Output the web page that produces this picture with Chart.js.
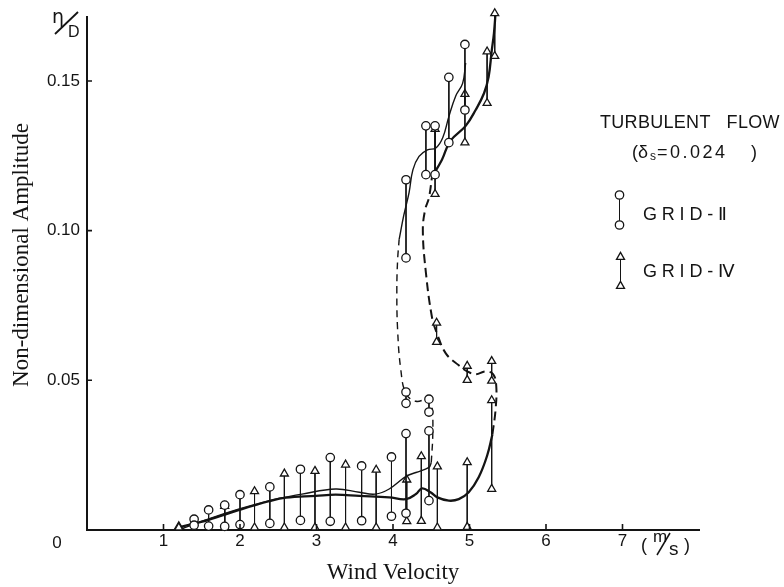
<!DOCTYPE html>
<html>
<head>
<meta charset="utf-8">
<script src="https://cdn.jsdelivr.net/npm/chart.js@4.4.1/dist/chart.umd.min.js"></script>
<style>
  html, body { margin: 0; padding: 0; background: #fff; }
  canvas { display: block; }
</style>
</head>
<body>
<canvas id="chart" width="784" height="587"></canvas>
<script>
// GRID-II: amplitude range (upper / lower reading) at each wind velocity
const gridIIVelocity = [1.40, 1.59, 1.80, 2.00, 2.39, 2.79, 3.18, 3.59, 3.98, 4.17, 4.17, 4.17, 4.43, 4.47, 4.47, 4.55, 4.73, 4.94];
const gridIIUpper    = [0.0036, 0.0067, 0.0083, 0.0118, 0.0144, 0.0203, 0.0242, 0.0214, 0.0244, 0.1170, 0.0461, 0.0322, 0.1350, 0.0437, 0.0331, 0.1350, 0.1512, 0.1622];
const gridIILower    = [0.0016, 0.0013, 0.0012, 0.0018, 0.0022, 0.0032, 0.0029, 0.0031, 0.0046, 0.0909, 0.0423, 0.0056, 0.1187, 0.0394, 0.0098, 0.1187, 0.1294, 0.1403];

// GRID-IV: amplitude range (upper / lower reading) at each wind velocity
const gridIVVelocity = [1.20, 1.80, 2.19, 2.58, 2.98, 3.38, 3.78, 4.18, 4.37, 4.55, 4.57, 4.58, 4.94, 4.97, 4.97, 5.23, 5.29, 5.29, 5.33];
const gridIVUpper    = [0.0012, 0.0080, 0.0129, 0.0188, 0.0197, 0.0218, 0.0201, 0.0168, 0.0246, 0.1339, 0.0692, 0.0212, 0.1456, 0.0548, 0.0226, 0.1598, 0.0564, 0.0433, 0.1726];
const gridIVLower    = [0.0008, 0.0008, 0.0008, 0.0008, 0.0008, 0.0008, 0.0008, 0.0029, 0.0030, 0.1122, 0.0628, 0.0008, 0.1294, 0.0501, 0.0010, 0.1426, 0.0498, 0.0137, 0.1583];

// GRID-II response curve: lower branch, jump (dashed), upper branch
const iiLowX   = [1.25, 1.59, 1.99, 2.38, 2.55, 2.81, 3.25, 3.56, 3.77, 3.95, 4.17, 4.30, 4.47, 4.50];
const iiLowY   = [0.0005, 0.0037, 0.0070, 0.0098, 0.0107, 0.0120, 0.0137, 0.0126, 0.0120, 0.0137, 0.0179, 0.0192, 0.0209, 0.0225];
const iiJumpX  = [4.50, 4.52, 4.51, 4.47, 4.30, 4.17, 4.10, 4.06, 4.05, 4.06, 4.08];
const iiJumpY  = [0.0225, 0.0320, 0.0410, 0.0437, 0.0430, 0.0455, 0.0540, 0.0670, 0.0800, 0.0900, 0.0970];
const iiHighX  = [4.08, 4.14, 4.21, 4.26, 4.34, 4.45, 4.56, 4.65, 4.73, 4.82, 4.91, 4.95];
const iiHighY  = [0.0970, 0.1050, 0.1127, 0.1203, 0.1248, 0.1270, 0.1276, 0.1310, 0.1381, 0.1450, 0.1492, 0.1560];

// GRID-IV response curve: lower branch, jump (dashed), upper branch
const ivLowX   = [1.20, 1.59, 1.99, 2.38, 2.60, 2.99, 3.25, 3.56, 3.95, 4.17, 4.30, 4.38, 4.49, 4.58, 4.73, 4.86, 4.99, 5.12, 5.23, 5.30];
const ivLowY   = [0.0009, 0.0034, 0.0067, 0.0096, 0.0108, 0.0114, 0.0118, 0.0114, 0.0109, 0.0103, 0.0120, 0.0139, 0.0126, 0.0109, 0.0098, 0.0103, 0.0126, 0.0176, 0.0248, 0.0320];
const ivJumpX  = [5.30, 5.34, 5.35, 5.31, 5.21, 5.08, 4.97, 4.86, 4.69, 4.57, 4.51, 4.43, 4.39, 4.42, 4.47, 4.51];
const ivJumpY  = [0.0320, 0.0400, 0.0480, 0.0520, 0.0530, 0.0520, 0.0530, 0.0550, 0.0590, 0.0660, 0.0710, 0.0860, 0.1000, 0.1070, 0.1110, 0.1180];
const ivHighX  = [4.51, 4.64, 4.75, 4.95, 5.08, 5.19, 5.25, 5.29, 5.32, 5.34];
const ivHighY  = [0.1180, 0.1237, 0.1300, 0.1350, 0.1403, 0.1459, 0.1514, 0.1600, 0.1660, 0.1726];

// axis ticks
const xTickValues = [1, 2, 3, 4, 5, 6, 7];
const yTickValues = [0.05, 0.10, 0.15];

const INK = '#141414';
const CIRCLE_R = 4.2;
const TRIANGLE_R = 4.6;

// vertical bars: upper point, lower point, then a gap to break the line
function rangePoints(vel, up, lo) {
  const pts = [];
  vel.forEach((v, i) => {
    pts.push({ x: v, y: up[i] }, { x: v, y: lo[i] }, { x: v, y: null });
  });
  return pts;
}
function pathPoints(xs, ys) {
  return xs.map((x, i) => ({ x: x, y: ys[i] }));
}

function rangeSet(label, vel, up, lo, style) {
  return {
    label: label,
    data: rangePoints(vel, up, lo),
    showLine: true,
    spanGaps: false,
    tension: 0,
    borderColor: INK,
    borderWidth: 1,
    pointStyle: style,
    pointRadius: style === 'triangle' ? TRIANGLE_R : CIRCLE_R,
    pointBackgroundColor: '#fff',
    pointBorderColor: INK,
    pointBorderWidth: 1.3,
    clip: false
  };
}
function curveSet(label, xs, ys, width, dash) {
  return {
    label: label,
    data: pathPoints(xs, ys),
    showLine: true,
    tension: 0.4,
    borderColor: INK,
    borderWidth: width,
    borderDash: dash || [],
    pointRadius: 0,
    clip: false
  };
}

// markers first so they are painted over the curves
const datasets = [
  rangeSet('GRID-II', gridIIVelocity, gridIIUpper, gridIILower, 'circle'),
  rangeSet('GRID-IV', gridIVVelocity, gridIVUpper, gridIVLower, 'triangle'),
  curveSet('GRID-II lower', iiLowX, iiLowY, 1.4),
  curveSet('GRID-II jump', iiJumpX, iiJumpY, 1.4, [7, 5]),
  curveSet('GRID-II upper', iiHighX, iiHighY, 1.4),
  curveSet('GRID-IV lower', ivLowX, ivLowY, 2.3),
  curveSet('GRID-IV jump', ivJumpX, ivJumpY, 2.0, [9, 5]),
  curveSet('GRID-IV upper', ivHighX, ivHighY, 2.3)
];

const SANS = '"Liberation Sans", "DejaVu Sans", sans-serif';
const SERIF = '"Liberation Serif", "DejaVu Serif", serif';

function spaced(ctx, px) {
  if ('letterSpacing' in ctx) ctx.letterSpacing = px + 'px';
}

// annotations: inner tick marks, origin, unit labels, y title and legend block
const decor = {
  id: 'decor',
  afterDraw(chart) {
    const ctx = chart.ctx;
    const a = chart.chartArea;
    const xs = chart.scales.x, ys = chart.scales.y;
    ctx.save();
    ctx.strokeStyle = INK;
    ctx.fillStyle = INK;

    // tick marks pointing into the plot
    ctx.lineWidth = 1.6;
    ctx.beginPath();
    xTickValues.forEach(v => {
      const p = xs.getPixelForValue(v);
      ctx.moveTo(p, a.bottom);
      ctx.lineTo(p, a.bottom - 6);
    });
    yTickValues.forEach(v => {
      const p = ys.getPixelForValue(v);
      ctx.moveTo(a.left, p);
      ctx.lineTo(a.left + 5, p);
    });
    ctx.stroke();

    // origin label
    ctx.font = '17px ' + SANS;
    ctx.textAlign = 'center';
    ctx.textBaseline = 'alphabetic';
    ctx.fillText('0', 57, 548);

    // y-axis title
    ctx.save();
    ctx.translate(22, 255);
    ctx.rotate(-Math.PI / 2);
    ctx.font = '23px ' + SERIF;
    ctx.textBaseline = 'middle';
    ctx.fillText('Non-dimensional Amplitude', 0, 0);
    ctx.restore();

    // η/D above the y axis
    ctx.textAlign = 'left';
    ctx.font = '19px "DejaVu Sans", sans-serif';
    ctx.fillText('η', 52, 23);
    ctx.font = '16px ' + SANS;
    ctx.fillText('D', 68, 37);
    ctx.lineWidth = 1.8;
    ctx.beginPath();
    ctx.moveTo(55, 34);
    ctx.lineTo(78, 12);
    ctx.stroke();

    // velocity unit (m/s)
    ctx.font = '18px ' + SANS;
    ctx.fillText('(', 641, 551);
    ctx.fillText(')', 684, 551);
    ctx.font = '17px ' + SANS;
    ctx.fillText('m', 653, 542);
    ctx.font = '19px ' + SANS;
    ctx.fillText('s', 669, 555);
    ctx.lineWidth = 1.5;
    ctx.beginPath();
    ctx.moveTo(657, 555);
    ctx.lineTo(670, 533);
    ctx.stroke();

    // legend block
    ctx.font = '18px ' + SANS;
    spaced(ctx, 0.3);
    ctx.fillText('TURBULENT   FLOW', 600, 128);
    spaced(ctx, 0);
    ctx.fillText('(', 632, 158);
    ctx.fillText('δ', 638, 158);
    ctx.font = '12px ' + SANS;
    ctx.fillText('s', 650, 160);
    ctx.font = '18px ' + SANS;
    spaced(ctx, 2.5);
    ctx.fillText('=0.024', 657, 158);
    spaced(ctx, 0);
    ctx.fillText(')', 751, 158);

    spaced(ctx, 4.8);
    ctx.fillText('GRID-Ⅱ', 643, 220);
    ctx.fillText('GRID-Ⅳ', 643, 276.5);
    spaced(ctx, 0);

    ctx.lineWidth = 1;
    ctx.beginPath();
    ctx.moveTo(619.5, 195); ctx.lineTo(619.5, 225);
    ctx.moveTo(620.5, 257); ctx.lineTo(620.5, 286);
    ctx.stroke();
    ctx.fillStyle = '#fff';
    ctx.lineWidth = 1.3;
    const dp = Chart.helpers.drawPoint;
    dp(ctx, { pointStyle: 'circle', radius: CIRCLE_R, borderWidth: 1.3, rotation: 0 }, 619.5, 195);
    dp(ctx, { pointStyle: 'circle', radius: CIRCLE_R, borderWidth: 1.3, rotation: 0 }, 619.5, 225);
    dp(ctx, { pointStyle: 'triangle', radius: TRIANGLE_R, borderWidth: 1.3, rotation: 0 }, 620.5, 257);
    dp(ctx, { pointStyle: 'triangle', radius: TRIANGLE_R, borderWidth: 1.3, rotation: 0 }, 620.5, 286);

    ctx.restore();
  }
};

new Chart(document.getElementById('chart'), {
  type: 'scatter',
  data: { datasets: datasets },
  options: {
    responsive: false,
    animation: false,
    devicePixelRatio: 1,
    layout: { padding: { left: 0, right: 85, top: 17, bottom: 0 } },
    plugins: {
      legend: { display: false },
      tooltip: { enabled: false }
    },
    scales: {
      x: {
        type: 'linear',
        min: 0,
        max: 8,
        afterFit: s => { s.height = 57; },
        afterBuildTicks: s => { s.ticks = xTickValues.map(v => ({ value: v })); },
        grid: { display: true, drawOnChartArea: false, drawTicks: false },
        border: { display: true, color: INK, width: 2 },
        ticks: {
          color: INK,
          font: { family: SANS, size: 17 },
          padding: 1,
          maxRotation: 0,
          autoSkip: false,
          callback: v => String(v)
        },
        title: {
          display: true,
          text: 'Wind Velocity',
          color: INK,
          font: { family: SERIF, size: 23 },
          padding: { top: 0, bottom: 0 }
        }
      },
      y: {
        type: 'linear',
        min: 0,
        max: 0.1713,
        afterFit: s => { s.width = 87; },
        afterBuildTicks: s => { s.ticks = yTickValues.map(v => ({ value: v })); },
        grid: { display: true, drawOnChartArea: false, drawTicks: false },
        border: { display: true, color: INK, width: 2 },
        ticks: {
          color: INK,
          font: { family: SANS, size: 17 },
          padding: 7,
          callback: v => v.toFixed(2)
        }
      }
    }
  },
  plugins: [decor]
});
</script>
</body>
</html>
